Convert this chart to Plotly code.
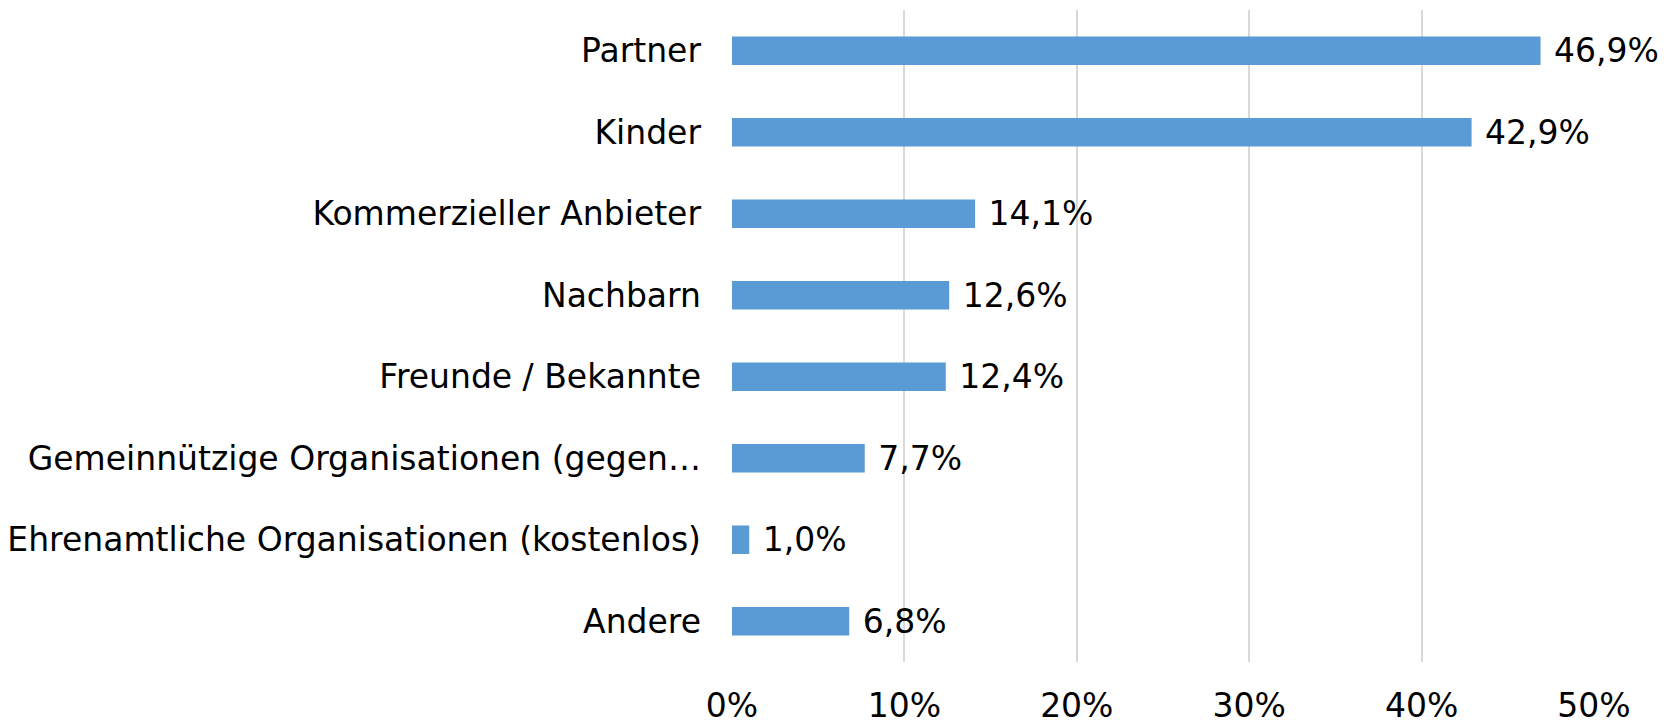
import plotly.graph_objects as go

categories = ["Partner", "Kinder", "Kommerzieller Anbieter", "Nachbarn", "Freunde / Bekannte",
              "Gemeinnützige Organisationen (gegen…", "Ehrenamtliche Organisationen (kostenlos)", "Andere"]
values = [0.469, 0.429, 0.141, 0.126, 0.124, 0.077, 0.010, 0.068]
x_ticks = [0, 0.1, 0.2, 0.3, 0.4, 0.5]

FONT = "DejaVu Sans, Tahoma, sans-serif"

fig = go.Figure(go.Bar(
    y=categories, x=values, orientation="h",
    marker=dict(color="#5B9BD5", line=dict(width=0)),
    texttemplate="\u00a0%{x:.1%}", textposition="outside", cliponaxis=False,
    constraintext="none",
    textfont=dict(size=33, color="#000000", family=FONT),
))

# page body has an 8px default margin, so the figure is sized to fit the window
fig.update_layout(
    width=1658, height=720,
    margin=dict(l=724, r=72, t=2, b=66, autoexpand=False),
    paper_bgcolor="white", plot_bgcolor="white",
    separators=",.",
    bargap=0.65,
    showlegend=False,
    font=dict(family=FONT, size=33, color="#000000"),
)
fig.update_xaxes(range=[0, 0.5], tickvals=x_ticks, tickformat=".0%",
                 showgrid=True, gridcolor="#D9D9D9", gridwidth=1.5,
                 zeroline=False, showline=False, ticks="", automargin=False,
                 ticklabelstandoff=21, tickfont=dict(size=33, family=FONT))
fig.update_yaxes(autorange="reversed", showgrid=False, zeroline=False,
                 showline=False, ticks="", automargin=False, ticklabelstandoff=30,
                 tickfont=dict(size=33, family=FONT))

fig.write_html("out.html")
